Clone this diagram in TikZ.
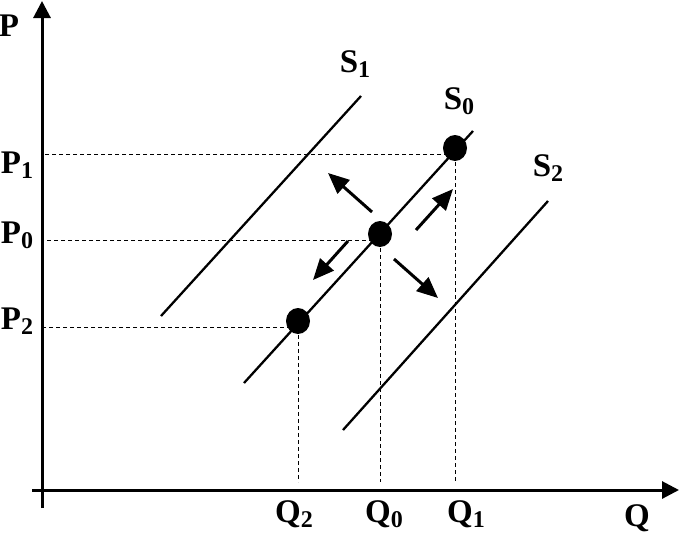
\documentclass[tikz,border=0pt]{standalone}
\usepackage{fontspec}
\setmainfont{Liberation Serif}
\usepackage{tikz}
\usetikzlibrary{arrows.meta, shapes.geometric}

\newcommand{\lbl}[2]{#1\raisebox{-0.35ex}{\fontsize{24}{24}\selectfont #2}}

\begin{document}
\begin{tikzpicture}[
  x=1pt, y=-1pt,
  axis/.style={line width=3pt, -{Triangle[length=17pt,width=17pt]}},
  supply/.style={line width=2.3pt},
  guide/.style={dash pattern=on 4pt off 3pt, line width=0.8pt},
  shiftarr/.style={line width=3pt, -{Triangle[length=21pt,width=18pt]}},
  eq/.style={ellipse, fill=black, inner sep=0pt, minimum width=24pt, minimum height=26pt},
  lab/.style={font=\bfseries\fontsize{33}{36}\selectfont, inner sep=0pt}
]
  \useasboundingbox (0,0) rectangle (679,533);

  % axes
  \coordinate (ybot) at (42,508);
  \coordinate (ytop) at (42,1);
  \coordinate (xleft) at (32,490);
  \coordinate (xright) at (679,490);
  \coordinate (xstop) at (0,482);
  \draw[axis] (ybot) -- (ytop);
  \draw[axis] (xleft) -- (xright);

  % supply curves
  \coordinate (s1lo) at (161,316);
  \coordinate (s1hi) at (361,96);
  \coordinate (s0lo) at (244,383);
  \coordinate (s0hi) at (473,131);
  \coordinate (s2lo) at (343,430);
  \coordinate (s2hi) at (548,201);
  \draw[supply] (s1lo) -- (s1hi);
  \draw[supply] (s0lo) -- (s0hi);
  \draw[supply] (s2lo) -- (s2hi);

  % equilibrium points
  \node[eq] (e2) at (298,321) {};
  \node[eq] (e0) at (380,234) {};
  \node[eq] (e1) at (455,148) {};

  % guide lines
  \coordinate (g2) at ([yshift=-6pt]e2.center);
  \coordinate (g0) at ([yshift=-6pt]e0.center);
  \coordinate (g1) at ([yshift=-6pt]e1.center);
  \draw[guide] (g2) -- (g2 -| ybot);
  \draw[guide] (g0) -- (g0 -| ybot);
  \draw[guide] (g1) -- (g1 -| ybot);
  \draw[guide] (e2.center) -- (e2.center |- xstop);
  \draw[guide] (e0.center) -- (e0.center |- xstop);
  \draw[guide] (e1.center) -- (e1.center |- xstop);

  % shift arrows
  \coordinate (ul0) at (372,212); \coordinate (ul1) at (328,173);
  \coordinate (ur0) at (416,230); \coordinate (ur1) at (453,189);
  \coordinate (dl0) at (348,241); \coordinate (dl1) at (313,280);
  \coordinate (dr0) at (394,259); \coordinate (dr1) at (438,298);
  \draw[shiftarr] (ul0) -- (ul1);
  \draw[shiftarr] (ur0) -- (ur1);
  \draw[shiftarr] (dl0) -- (dl1);
  \draw[shiftarr] (dr0) -- (dr1);

  % labels
  \node[lab] (lP) at (9,26) {P};
  \node[lab] (lP1) at (17,165) {\lbl{P}{1}};
  \node[lab] (lP0) at (17,235) {\lbl{P}{0}};
  \node[lab] (lP2) at (17,321) {\lbl{P}{2}};
  \node[lab] (lQ2) at (294,514) {\lbl{Q}{2}};
  \node[lab] (lQ0) at (384,514) {\lbl{Q}{0}};
  \node[lab] (lQ1) at (466,514) {\lbl{Q}{1}};
  \node[lab] (lQ) at (637,518) {Q};
  \node[lab] (lS1) at (355,64) {\lbl{S}{1}};
  \node[lab] (lS0) at (459,101) {\lbl{S}{0}};
  \node[lab] (lS2) at (548,168) {\lbl{S}{2}};
\end{tikzpicture}
\end{document}
